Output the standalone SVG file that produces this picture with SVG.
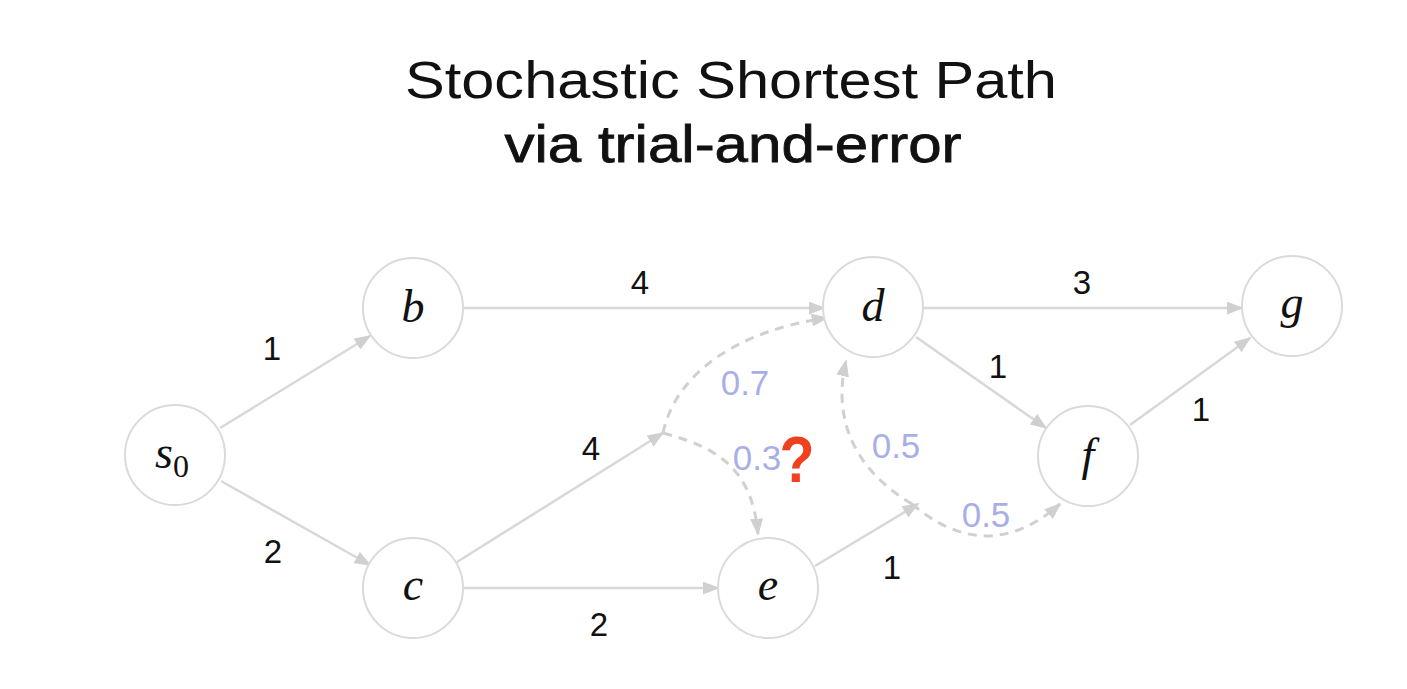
<svg xmlns="http://www.w3.org/2000/svg" width="1407" height="689" viewBox="0 0 1407 689">
<style>
.node{fill:#fff;stroke:#dadada;stroke-width:2}
.nl{font-family:"Liberation Serif",serif;font-style:italic;font-size:46px;fill:#111;text-anchor:middle}
.e{stroke:#d8d8d8;stroke-width:2.5;fill:none;marker-end:url(#ah)}
.d{stroke:#d0d0d0;stroke-width:3;fill:none;stroke-dasharray:9 7;marker-end:url(#ah)}
.w{font-family:"Liberation Sans",sans-serif;font-size:33px;fill:#111;text-anchor:middle}
.p{font-family:"Liberation Sans",sans-serif;font-size:35px;fill:#a9afe6;text-anchor:middle}
.t{font-family:"Liberation Sans",sans-serif;font-size:52px;fill:#111;text-anchor:middle}
</style>
<defs>
<marker id="ah" viewBox="0 0 10 10" refX="9" refY="5" markerWidth="17" markerHeight="13" markerUnits="userSpaceOnUse" orient="auto" preserveAspectRatio="none">
<path d="M0,0 L10,5 L0,10 z" fill="#d0d0d0"/>
</marker>
</defs>
<rect width="1407" height="689" fill="#fff"/>
<g id="title">
<text class="t" x="731" y="98" textLength="652" lengthAdjust="spacingAndGlyphs">Stochastic Shortest Path</text>
<text class="t" x="733" y="162" textLength="457" lengthAdjust="spacingAndGlyphs" stroke="#111" stroke-width="0.8">via trial-and-error</text>
</g>
<g id="connectors">
<line class="e" x1="220" y1="428" x2="370" y2="336"/>
<line class="e" x1="221" y1="481" x2="370" y2="565"/>
<line class="e" x1="463" y1="308" x2="824" y2="308"/>
<line class="e" x1="922" y1="308" x2="1242" y2="308"/>
<line class="e" x1="916" y1="337" x2="1046" y2="428"/>
<line class="e" x1="1130" y1="425" x2="1250" y2="338"/>
<line class="e" x1="463" y1="588" x2="718" y2="588"/>
<line class="e" x1="457" y1="562" x2="663" y2="433"/>
<line class="e" x1="815" y1="566" x2="918" y2="504"/>
<path class="d" d="M663,433 C676,372 740,330 827,318"/>
<path class="d" d="M663,433 C720,448 752,470 758,534"/>
<path class="d" d="M912,504 C855,470 832,420 846,361"/>
<path class="d" d="M912,504 C960,545 1010,548 1060,504"/>
<text class="w" x="272" y="360">1</text>
<text class="w" x="273" y="563">2</text>
<text class="w" x="640" y="294">4</text>
<text class="w" x="1082" y="294">3</text>
<text class="w" x="998" y="378">1</text>
<text class="w" x="1201" y="421">1</text>
<text class="w" x="591" y="460">4</text>
<text class="w" x="599" y="636">2</text>
<text class="w" x="892" y="579">1</text>
<text class="p" x="745" y="395">0.7</text>
<text class="p" x="757" y="470">0.3</text>
<text class="p" x="896" y="458">0.5</text>
<text class="p" x="986" y="527">0.5</text>
<text x="797" y="482" font-family="Liberation Sans,sans-serif" font-weight="bold" font-size="64" fill="#f0401e" text-anchor="middle" textLength="35" lengthAdjust="spacingAndGlyphs">?</text>
</g>
<g id="node-s0"><circle class="node" cx="175" cy="455" r="50"/><text class="nl" x="172" y="468">s<tspan font-style="normal" font-size="32" dy="9">0</tspan></text></g>
<g id="node-b"><circle class="node" cx="413" cy="308" r="50"/><text class="nl" x="413" y="322">b</text></g>
<g id="node-c"><circle class="node" cx="413" cy="588" r="50"/><text class="nl" x="413" y="600">c</text></g>
<g id="node-d"><circle class="node" cx="873" cy="307" r="50"/><text class="nl" x="873" y="321">d</text></g>
<g id="node-e"><circle class="node" cx="768" cy="588" r="50"/><text class="nl" x="768" y="600">e</text></g>
<g id="node-f"><circle class="node" cx="1088" cy="456" r="50"/><text class="nl" x="1088" y="470">f</text></g>
<g id="node-g"><circle class="node" cx="1292" cy="306" r="50"/><text class="nl" x="1292" y="318">g</text></g>
</svg>
